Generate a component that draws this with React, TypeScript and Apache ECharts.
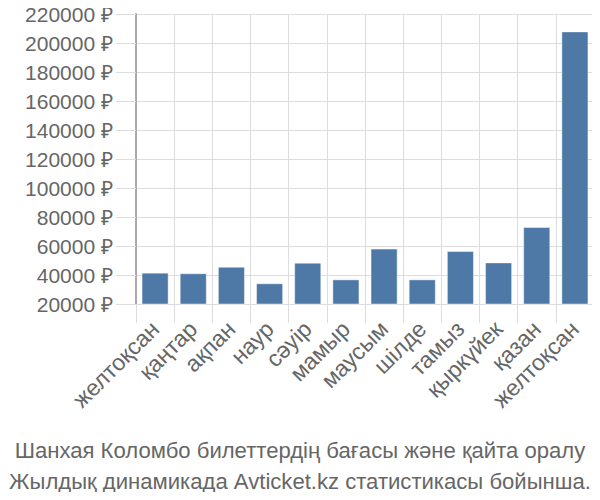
import React, { useEffect, useRef } from "react";
import * as echarts from "echarts";

const categories = [
  "желтоқсан",
  "қаңтар",
  "ақпан",
  "наур",
  "сәуір",
  "мамыр",
  "маусым",
  "шілде",
  "тамыз",
  "қыркүйек",
  "қазан",
  "желтоқсан",
];
const prices = [41600, 41200, 45700, 34300, 48500, 37000, 58200, 37000, 56500, 48700, 73100, 208000];
const yMin = 20000;
const yMax = 220000;
const yStep = 20000;
const captionLines = [
  "Шанхая Коломбо билеттердің бағасы және қайта оралу",
  "Жылдық динамикада Avticket.kz статистикасы бойынша.",
];

export default function App() {
  const ref = useRef<HTMLDivElement>(null);
  useEffect(() => {
    if (!ref.current) return;
    const chart = echarts.init(ref.current, undefined, { renderer: "svg" });
    const font = "Liberation Sans, Arial, sans-serif";
    chart.setOption({
      animation: false,
      textStyle: { fontFamily: font },
      title: {
        text: captionLines.join("\n"),
        left: "center",
        top: 430,
        textStyle: {
          fontFamily: font,
          fontSize: 22.1,
          fontWeight: "normal",
          color: "#666",
          lineHeight: 31,
        },
      },
      grid: { left: 136, right: 6, top: 14, bottom: 196, containLabel: false },
      xAxis: {
        type: "category",
        data: categories,
        axisLine: { show: true, lineStyle: { color: "#ddd", width: 1 } },
        axisTick: { show: true, length: 19, lineStyle: { color: "#ddd" } },
        splitLine: { show: true, lineStyle: { color: "#ddd", width: 1 } },
        axisLabel: {
          rotate: 45,
          fontSize: 23,
          color: "#666",
          margin: 21,
          interval: 0,
          fontFamily: font,
        },
      },
      yAxis: {
        type: "value",
        min: yMin,
        max: yMax,
        interval: yStep,
        axisLine: { show: true, lineStyle: { color: "#aaa", width: 2 } },
        axisTick: { show: true, length: 20, lineStyle: { color: "#ddd" } },
        splitLine: { show: true, lineStyle: { color: "#ddd", width: 1 } },
        axisLabel: {
          fontSize: 21,
          color: "#666",
          margin: 23,
          fontFamily: font,
          formatter: (v: number) => `${v} ₽`,
        },
      },
      series: [
        {
          type: "bar",
          data: prices,
          barWidth: "71%",
          itemStyle: {
            color: "#4e78a6",
            borderColor: "rgba(255,255,255,0.45)",
            borderWidth: 1,
          },
        },
      ],
    });
    return () => chart.dispose();
  }, []);
  return <div ref={ref} style={{ width: 600, height: 500, margin: -8 }} />;
}
